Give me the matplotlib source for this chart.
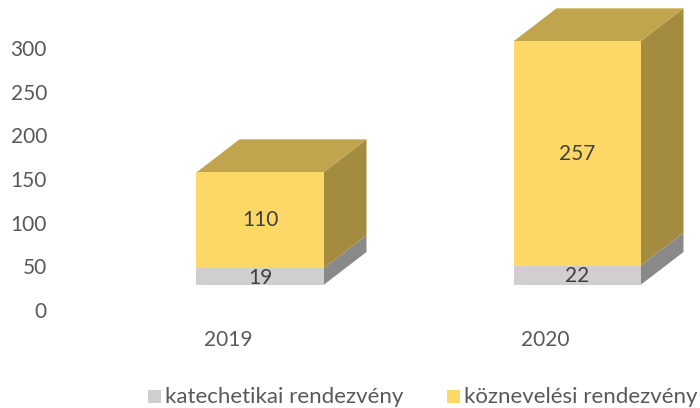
import matplotlib
matplotlib.use("Agg")
import matplotlib.pyplot as plt
from matplotlib.patches import Polygon, Rectangle

# ---- data ----
categories = ["2019", "2020"]
katechetikai = [19, 22]
koznevelesi = [110, 257]
series_names = ["katechetikai rendezvény", "köznevelési rendezvény"]
yticks = [0, 50, 100, 150, 200, 250, 300]

# ---- style ----
plt.rcParams['font.family'] = ['Lato', 'DejaVu Sans']
FS = 15
tick_color = "#595959"
label_color = "#404040"
colors = {
    "gray": {"front": "#D0CECE", "side": "#898989", "top": "#A6A5A5"},
    "yellow": {"front": "#FED866", "side": "#A38B40", "top": "#C0A44E"},
}

W, H = 700, 408
fig = plt.figure(figsize=(7, 4.08), dpi=100)
ax = fig.add_axes([0, 0, 1, 1])
# pixel mapping: y value 0 -> 312px, 0.8733 px/unit ; category 0 -> 228px, 317 px/unit
ppu_y = 0.8733
ppu_x = 317.0
ax.set_ylim(-(H - 312) / ppu_y, 312 / ppu_y)
ax.set_xlim(-228 / ppu_x, (W - 228) / ppu_x)
ax.axis("off")

# 3D geometry (in data units)
base = 27 / ppu_y          # bars pushed back from floor front
shift_x = 32 / ppu_x       # bars pushed right
width = 127 / ppu_x
dx = 43 / ppu_x
dy = 33 / ppu_y

def box(xc, y0, y1, c, draw_top):
    x0 = xc - width / 2
    x1 = xc + width / 2
    ax.add_patch(Polygon([(x0, y0), (x1, y0), (x1, y1), (x0, y1)],
                         closed=True, facecolor=c["front"], edgecolor="none", zorder=3))
    ax.add_patch(Polygon([(x1, y0), (x1 + dx, y0 + dy), (x1 + dx, y1 + dy), (x1, y1)],
                         closed=True, facecolor=c["side"], edgecolor="none", zorder=2))
    if draw_top:
        ax.add_patch(Polygon([(x0, y1), (x1, y1), (x1 + dx, y1 + dy), (x0 + dx, y1 + dy)],
                             closed=True, facecolor=c["top"], edgecolor="none", zorder=2))

for i, cat in enumerate(categories):
    xc = i + shift_x
    g0 = base
    g1 = base + katechetikai[i]
    y1 = g1 + koznevelesi[i]
    box(xc, g0, g1, colors["gray"], False)
    box(xc, g1, y1, colors["yellow"], True)
    ax.text(xc, (g0 + g1) / 2 - 1, str(katechetikai[i]), ha="center", va="center",
            fontsize=FS, color=label_color, zorder=5)
    ax.text(xc, (g1 + y1) / 2, str(koznevelesi[i]), ha="center", va="center",
            fontsize=FS, color=label_color, zorder=5)
    ax.text(i, -32, cat, ha="center", va="center", fontsize=FS, color=tick_color)

# y tick labels
xlab = (47 - 228) / ppu_x
for t in yticks:
    ax.text(xlab, t, str(t), ha="right", va="center", fontsize=FS, color=tick_color)

# legend (manual)
leg_items = [(148, series_names[0], colors["gray"]["front"]),
             (447, series_names[1], colors["yellow"]["front"])]
for px, name, col in leg_items:
    fig.patches.append(Rectangle((px / W, 1 - 403 / H), 13 / W, 13 / H,
                                 transform=fig.transFigure, facecolor=col,
                                 edgecolor="none"))
    fig.text((px + 17) / W, 1 - 397 / H, name, ha="left", va="center",
             fontsize=16, color=tick_color)

fig.savefig("out.png", dpi=100)
